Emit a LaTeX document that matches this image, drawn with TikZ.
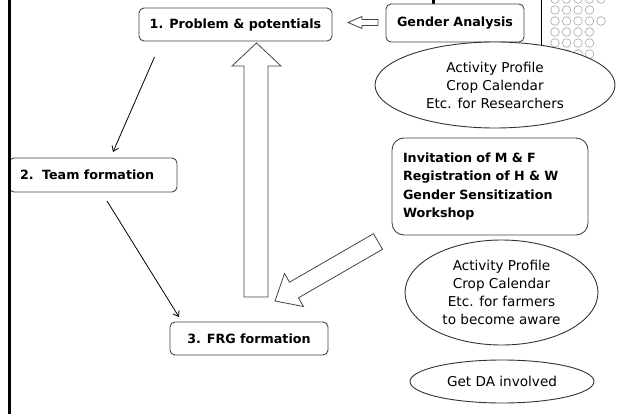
\documentclass[tikz,border=0pt]{standalone}
\usepackage{fontspec}
\setmainfont{DejaVu Sans}
\usetikzlibrary{arrows.meta,shapes.geometric}
\definecolor{edgegray}{RGB}{70,70,70}
\definecolor{dotgray}{RGB}{165,165,165}
\begin{document}
\begin{tikzpicture}[x=1pt,y=-1pt,
  stagebox/.style={draw=edgegray, line width=0.9pt, rounded corners=5pt, fill=white,
    inner sep=0pt, font=\fontsize{12.7}{18.5}\selectfont\bfseries},
  notebox/.style={draw=edgegray, line width=0.9pt, rounded corners=12pt, fill=white,
    inner xsep=11pt, inner ysep=0pt, align=left,
    font=\fontsize{12.7}{18.5}\selectfont\bfseries},
  oval/.style={ellipse, draw=black!80, line width=0.9pt, fill=white, inner sep=0pt,
    align=center, font=\fontsize{13.6}{18}\selectfont},
  blockarrow/.style={draw=edgegray, line width=0.8pt, fill=white, line join=miter},
  flow/.style={draw=black, line width=0.8pt, -{Straight Barb[length=5pt,width=7pt]}}
]
\useasboundingbox (0,0) rectangle (617,414);
\fill[white] (0,0) rectangle (617,414);

% decorative background: dot grid and rule at the upper right
\draw[line width=1pt] (541.5,0) -- (541.5,60);
\foreach \y/\n in {-1/5,10/4,21/5,32/4,43/4,54/4}{
  \foreach \i in {1,...,\n}{
    \draw[dotgray, line width=0.6pt] ({543.5+11.5*\i},\y) circle (4.3);
  }
}
\fill (432,0) rectangle (434.5,4.5);

% stage boxes
\node[stagebox, minimum width=193pt, minimum height=33pt] (p1) at (235.5,24.5)
  {1. Problem \& potentials};
\node[stagebox, minimum width=138pt, minimum height=38pt] (ga) at (455,23)
  {Gender Analysis};
\node[stagebox, minimum width=168pt, minimum height=34pt, text width=146pt,
  align=left, inner xsep=11pt] (team) at (93,175) {2.\ \ Team formation};
\node[stagebox, minimum width=158pt, minimum height=33pt] (frg) at (249,338.5)
  {3. FRG formation};
\node[notebox, text width=174pt, minimum height=97pt] (inv) at (490,186.5)
  {Invitation of M \& F\\Registration of H \& W\\Gender Sensitization\\Workshop};

% ovals with supporting activities
\node[oval, minimum width=240pt, minimum height=86pt] (res) at (495,85)
  {Activity Profile\\Crop Calendar\\Etc. for Researchers};
\node[oval, minimum width=193pt, minimum height=105pt] (farm) at (501.5,292.5)
  {Activity Profile\\Crop Calendar\\Etc. for farmers\\to become aware};
\node[oval, minimum width=184pt, minimum height=43pt] (da) at (502,381.5)
  {Get DA involved};

% hollow arrow from Gender Analysis to stage 1
\draw[blockarrow] (378,19.5) -- (362,19.5) -- (362,16.5) -- (348,22.5)
  -- (362,28.5) -- (362,25.5) -- (378,25.5) -- cycle;

% big hollow arrow from stage 3 back up to stage 1
\draw[blockarrow] (244,297) -- (244,66) -- (232,66) -- (256.5,43) -- (281,66)
  -- (268,66) -- (268,297) -- cycle;

% hollow arrow from the sensitization workshop towards stage 3
\draw[blockarrow] (373.5,233.7) -- (289.5,282.2) -- (284.5,273.5) -- (275,301)
  -- (303.5,306.5) -- (298.5,297.8) -- (382.5,249.3) -- cycle;

% thin flow arrows between the stages
\coordinate (s1) at (154.5,57);
\coordinate (e1) at (113,152);
\coordinate (s2) at (107,201);
\coordinate (e2) at (179,317);
\draw[flow] (s1) -- (e1);
\draw[flow] (s2) -- (e2);

% left margin rule
\draw[line width=3pt] (9,0) -- (9,414);
\end{tikzpicture}
\end{document}
